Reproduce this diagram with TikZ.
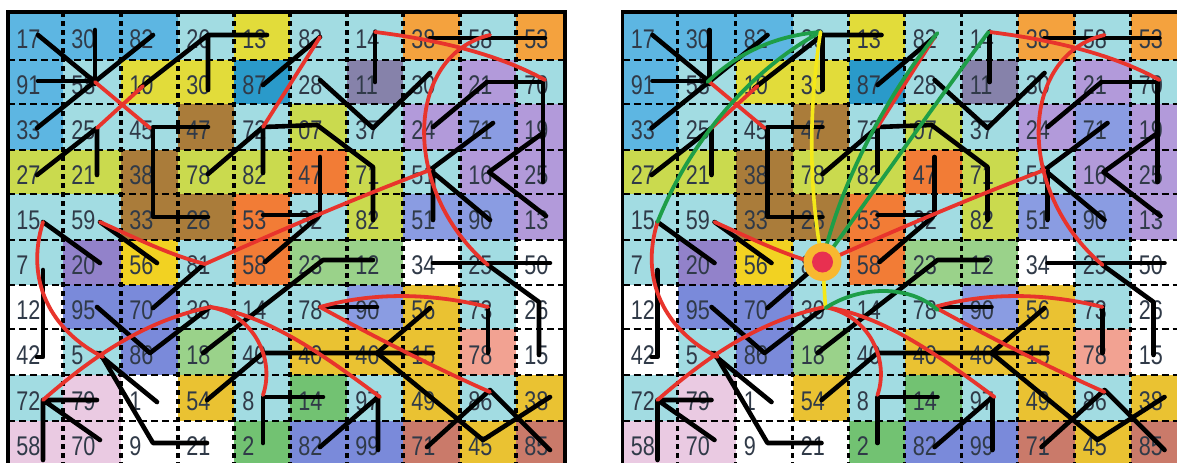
\documentclass[tikz,border=0pt]{standalone}
\usepackage{fontspec}
\newfontfamily\numfont[FakeStretch=0.8]{Liberation Sans}
\definecolor{cblue}{HTML}{5DB6E2}
\definecolor{ccyan}{HTML}{A2DCE2}
\definecolor{cyel}{HTML}{E2DC3A}
\definecolor{cygreen}{HTML}{CADA4E}
\definecolor{corange}{HTML}{F4A23E}
\definecolor{cdorange}{HTML}{F27C36}
\definecolor{cteal}{HTML}{2A9ACA}
\definecolor{cslate}{HTML}{8682AA}
\definecolor{cpurple}{HTML}{B29ADA}
\definecolor{cperi}{HTML}{8A9CE2}
\definecolor{cbrown}{HTML}{AA7C3A}
\definecolor{cgreen}{HTML}{9AD28A}
\definecolor{cgold}{HTML}{EAC232}
\definecolor{csalmon}{HTML}{F2A292}
\definecolor{cpink}{HTML}{EACAE2}
\definecolor{cdgreen}{HTML}{72C272}
\definecolor{crust}{HTML}{CA7A6A}
\definecolor{cyellow}{HTML}{F2D222}
\definecolor{cviolet}{HTML}{9282CA}
\definecolor{cbv}{HTML}{7A8ADA}
\definecolor{numcol}{HTML}{303A48}
\definecolor{redl}{HTML}{E8342C}
\definecolor{grn}{HTML}{1E9E48}
\definecolor{ylw}{HTML}{F4E818}
\definecolor{hubout}{HTML}{F8B830}
\definecolor{hubin}{HTML}{E83050}
\tikzset{
  num/.style={anchor=west, inner sep=0pt, text=numcol, font=\numfont\fontsize{13.5}{13.5}\selectfont},
  blk/.style={line width=2.3pt, black, line cap=round, line join=round},
  rd/.style={line width=1.9pt, redl, line cap=round},
  gr/.style={line width=1.9pt, grn, line cap=round},
  yl/.style={line width=1.8pt, ylw, line cap=round},
  hdash/.style={line width=1.3pt, black, dash pattern=on 3.5pt off 2pt},
  vdash/.style={line width=1.6pt, black, dash pattern=on 2.5pt off 2pt},
  border/.style={line width=1.8pt, black}
}
\newcommand\gridrow[3]{%
  \foreach \cl/\nm [count=\c from 0] in {#3} {
    \pgfmathsetmacro\xa{{8,63,121,178,234,290,347,403,460,516,565}[\c]}
    \pgfmathsetmacro\xb{{8,63,121,178,234,290,347,403,460,516,565}[\c+1]}
    \pgfmathsetmacro\ya{{12,60,104,150,194,240,285,329,375,421,466}[#2]}
    \pgfmathsetmacro\yb{{12,60,104,150,194,240,285,329,375,421,466}[#2+1]}
    \fill[\cl] (\xa,\ya) rectangle (\xb,\yb);
    \node[num] (#1-#2-\c) at ({\xa+8},{(\ya+\yb)/2+3}) {\nm};
  }}
\newcommand\drawpanel[1]{%
  \gridrow{#1}{0}{cblue/17,cblue/30,cblue/82,ccyan/26,cyel/13,ccyan/82,ccyan/14,corange/38,ccyan/58,corange/53}
  \gridrow{#1}{1}{cblue/91,ccyan/58,cyel/10,cyel/30,cteal/87,ccyan/28,cslate/11,ccyan/30,cpurple/21,ccyan/70}
  \gridrow{#1}{2}{cblue/33,ccyan/25,ccyan/45,cbrown/47,ccyan/72,cygreen/07,ccyan/37,cpurple/24,cperi/71,cpurple/19}
  \gridrow{#1}{3}{cygreen/27,cygreen/21,cbrown/38,cygreen/78,cygreen/82,cdorange/47,cygreen/71,ccyan/51,cpurple/16,cpurple/25}
  \gridrow{#1}{4}{ccyan/15,ccyan/59,cbrown/33,cbrown/28,cdorange/53,ccyan/32,cygreen/82,cperi/51,cperi/90,cpurple/13}
  \gridrow{#1}{5}{ccyan/7,cviolet/20,cyellow/56,ccyan/81,cdorange/58,cgreen/23,cgreen/12,white/34,ccyan/25,white/50}
  \gridrow{#1}{6}{white/12,cbv/95,cbv/70,ccyan/30,ccyan/14,ccyan/78,cperi/90,cgold/56,ccyan/73,white/26}
  \gridrow{#1}{7}{white/42,ccyan/5,cbv/86,cgreen/18,ccyan/40,cgold/40,cgold/46,cgold/15,csalmon/78,white/15}
  \gridrow{#1}{8}{ccyan/72,cpink/79,white/1,cgold/54,ccyan/8,cdgreen/14,ccyan/97,cgold/49,ccyan/86,cgold/38}
  \gridrow{#1}{9}{cpink/58,cpink/70,white/9,white/21,cdgreen/2,cbv/82,cbv/99,crust/71,cgold/45,crust/85}
  \foreach \x in {63,121,178,234,290,347,403,460,516} \draw[vdash] (\x,12) -- (\x,466);
  \foreach \y in {60,104,150,194,240,285,329,375,421} \draw[hdash] (8,\y) -- (565,\y);
  \draw[border] (8,470) -- (8,12) -- (565,12) -- (565,470);
  % black connectors
  \draw[blk] (38,35) -- (95,82);
  \draw[blk] (95,30) -- (95,84);
  \draw[blk] (38,81) -- (95,81);
  \draw[blk] (37,128) -- (153,35);
  \draw[blk] (37,175) -- (97,128) -- (97,175);
  \draw[blk] (140,88) -- (208,35) -- (267,35) (208,35) -- (208,90);
  \draw[blk] (208,127) -- (153,127) -- (153,217) -- (208,217);
  \draw[blk] (208,174) -- (263,127) -- (263,173) (263,127) -- (317,125) -- (373,167) -- (373,220);
  \draw[blk] (263,85) -- (320,37);
  \draw[blk] (320,157) -- (320,215) -- (263,215);
  \draw[blk] (265,262) -- (318,217);
  \draw[blk] (320,80) -- (373,128) -- (430,73);
  \draw[blk] (375,32) -- (375,82);
  \draw[blk] (430,38) -- (545,38);
  \draw[blk] (487,82) -- (543,82) -- (543,182);
  \draw[blk] (487,82) -- (433,127);
  \draw[blk] (493,123) -- (430,170) -- (490,220) (433,170) -- (433,220);
  \draw[blk] (543,133) -- (489,172) -- (546,216);
  \draw[blk] (43,222) -- (100,263);
  \draw[blk] (100,222) -- (157,263);
  \draw[blk] (203,265) -- (153,308);
  \draw[blk] (97,307) -- (150,353) -- (210,307);
  \draw[blk] (203,353) -- (323,260) -- (373,260);
  \draw[blk] (207,400) -- (263,353) -- (433,353);
  \draw[blk] (377,353) -- (430,308);
  \draw[blk] (377,353) -- (483,440) -- (550,397);
  \draw[blk] (427,447) -- (490,390) -- (550,450);
  \draw[blk] (433,263) -- (550,263);
  \draw[blk] (488,265) -- (539,302) -- (539,355);
  \draw[blk] (488,307) -- (488,353);
  \draw[blk] (320,307) -- (377,307);
  \draw[blk] (263,443) -- (263,397) -- (323,397);
  \draw[blk] (320,447) -- (378,397) -- (378,450);
  \draw[blk] (43,400) -- (97,400) (43,400) -- (100,440) (43,400) -- (43,460);
  \draw[blk] (43,270) -- (43,357) -- (37,357);
  \draw[blk] (97,353) -- (157,402);
  \draw[blk] (100,353) -- (153,443) -- (207,443);
  % red connectors
  \draw[rd] (95,82) -- (150,128);
  \draw[rd] (97,128) -- (143,86);
  \draw[rd] (320,37) -- (263,127);
  \draw[rd] (375,32) .. controls (440,40) and (500,55) .. (545,80);
  \draw[rd] (490,35) .. controls (405,55) and (400,190) .. (488,265);
  \draw[rd] (100,222) .. controls (140,240) and (170,255) .. (205,264);
  \draw[rd] (430,170) .. controls (350,200) and (270,235) .. (205,264);
  \draw[rd] (43,222) .. controls (25,280) and (50,330) .. (103,357);
  \draw[rd] (43,400) .. controls (100,350) and (150,320) .. (210,307);
  \draw[rd] (210,307) .. controls (255,315) and (275,360) .. (263,395);
  \draw[rd] (210,307) .. controls (270,315) and (330,360) .. (380,397);
  \draw[rd] (320,307) .. controls (380,290) and (440,295) .. (488,307);
  \draw[rd] (320,307) .. controls (380,340) and (440,370) .. (490,392);
}
\begin{document}
\begin{tikzpicture}[x=0.5pt,y=-0.5pt]
\useasboundingbox (0,0) rectangle (1177,462);
\clip (0,0) rectangle (1177,462);
\fill[white] (0,0) rectangle (1177,462);
\begin{scope}
  \drawpanel{L}
\end{scope}
\begin{scope}[shift={(614.5,0)}]
  \drawpanel{R}
  \draw[gr] (43,222) .. controls (76,140) and (136,70) .. (206,32);
  \draw[gr] (93,82) .. controls (126,50) and (166,35) .. (206,32);
  \draw[yl] (206,32) .. controls (194,110) and (194,190) .. (208,262) -- (211,308);
  \draw[gr] (208,262) .. controls (226,180) and (276,90) .. (323,33);
  \draw[gr] (208,262) .. controls (246,210) and (316,110) .. (374,32);
  \draw[gr] (211,308) .. controls (246,285) and (296,285) .. (323,310);
  \node[circle, fill=hubout, minimum size=19pt, inner sep=0pt] (hub) at (208,262) {};
  \node[circle, fill=hubin, minimum size=10.5pt, inner sep=0pt] (hubc) at (hub) {};
\end{scope}
\end{tikzpicture}
\end{document}
